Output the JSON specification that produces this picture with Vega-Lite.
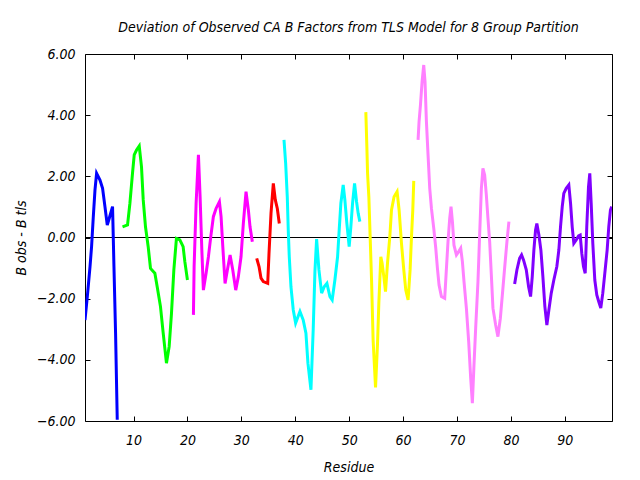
{
  "$schema": "https://vega.github.io/schema/vega-lite/v6.json",
  "width": 527,
  "height": 367,
  "autosize": {"type": "none"},
  "padding": {"left": 85, "top": 54, "right": 28, "bottom": 59},
  "background": "white",
  "config": {
    "view": {"stroke": "black", "strokeWidth": 1},
    "font": "DejaVu Sans Condensed, DejaVu Sans",
    "axis": {"labelFontStyle": "italic", "titleFontStyle": "italic", "labelFontSize": 14, "titleFontSize": 14, "titleFontWeight": "normal", "labelColor": "black", "titleColor": "black", "tickColor": "black", "grid": false, "domain": false}
  },
  "title": {"text": "Deviation of Observed CA B Factors from TLS Model for 8 Group Partition", "fontSize": 14, "fontStyle": "italic", "fontWeight": "normal", "offset": 12, "anchor": "middle", "color": "black"},
  "data": {"values": [
    {"g": "1", "r": 1.00, "v": -2.70}, {"g": "1", "r": 1.43, "v": -1.93}, {"g": "1", "r": 1.93, "v": -0.95}, {"g": "1", "r": 2.22, "v": -0.30}, {"g": "1", "r": 2.54, "v": 0.68}, {"g": "1", "r": 2.85, "v": 1.55}, {"g": "1", "r": 3.15, "v": 2.10}, {"g": "1", "r": 3.78, "v": 1.88}, {"g": "1", "r": 4.26, "v": 1.61}, {"g": "1", "r": 4.70, "v": 1.01}, {"g": "1", "r": 5.13, "v": 0.41}, {"g": "1", "r": 5.50, "v": 0.63}, {"g": "1", "r": 6.11, "v": 1.01}, {"g": "1", "r": 6.37, "v": -0.95}, {"g": "1", "r": 6.67, "v": -3.12}, {"g": "1", "r": 6.98, "v": -5.96},
    {"g": "2", "r": 7.96, "v": 0.35}, {"g": "2", "r": 8.89, "v": 0.41}, {"g": "2", "r": 9.33, "v": 1.12}, {"g": "2", "r": 9.81, "v": 2.10}, {"g": "2", "r": 10.13, "v": 2.70}, {"g": "2", "r": 10.56, "v": 2.86}, {"g": "2", "r": 11.06, "v": 2.99}, {"g": "2", "r": 11.48, "v": 2.31}, {"g": "2", "r": 11.80, "v": 1.23}, {"g": "2", "r": 12.22, "v": 0.35}, {"g": "2", "r": 12.72, "v": -0.30}, {"g": "2", "r": 13.15, "v": -1.01}, {"g": "2", "r": 13.96, "v": -1.17}, {"g": "2", "r": 14.39, "v": -1.61}, {"g": "2", "r": 15.00, "v": -2.26}, {"g": "2", "r": 15.50, "v": -3.12}, {"g": "2", "r": 16.11, "v": -4.11}, {"g": "2", "r": 16.61, "v": -3.57}, {"g": "2", "r": 17.04, "v": -2.48}, {"g": "2", "r": 17.48, "v": -1.06}, {"g": "2", "r": 17.96, "v": -0.03}, {"g": "2", "r": 18.59, "v": -0.08}, {"g": "2", "r": 19.20, "v": -0.30}, {"g": "2", "r": 19.52, "v": -0.79}, {"g": "2", "r": 20.00, "v": -1.39},
    {"g": "3", "r": 21.11, "v": -2.53}, {"g": "3", "r": 21.24, "v": -0.95}, {"g": "3", "r": 21.61, "v": 1.12}, {"g": "3", "r": 22.04, "v": 2.70}, {"g": "3", "r": 22.35, "v": 1.33}, {"g": "3", "r": 22.67, "v": -0.41}, {"g": "3", "r": 22.96, "v": -1.72}, {"g": "3", "r": 23.46, "v": -1.17}, {"g": "3", "r": 23.89, "v": -0.63}, {"g": "3", "r": 24.33, "v": 0.03}, {"g": "3", "r": 24.81, "v": 0.68}, {"g": "3", "r": 25.31, "v": 0.95}, {"g": "3", "r": 25.93, "v": 1.17}, {"g": "3", "r": 26.24, "v": 0.68}, {"g": "3", "r": 26.56, "v": -0.30}, {"g": "3", "r": 26.98, "v": -1.50}, {"g": "3", "r": 27.41, "v": -1.06}, {"g": "3", "r": 27.91, "v": -0.57}, {"g": "3", "r": 28.41, "v": -1.06}, {"g": "3", "r": 28.96, "v": -1.72}, {"g": "3", "r": 29.44, "v": -1.28}, {"g": "3", "r": 29.94, "v": -0.63}, {"g": "3", "r": 30.37, "v": 0.46}, {"g": "3", "r": 30.87, "v": 1.50}, {"g": "3", "r": 31.30, "v": 0.90}, {"g": "3", "r": 31.61, "v": 0.35}, {"g": "3", "r": 32.04, "v": -0.14},
    {"g": "4", "r": 32.85, "v": -0.68}, {"g": "4", "r": 33.28, "v": -0.95}, {"g": "4", "r": 33.65, "v": -1.33}, {"g": "4", "r": 34.07, "v": -1.44}, {"g": "4", "r": 34.89, "v": -1.50}, {"g": "4", "r": 35.13, "v": -0.52}, {"g": "4", "r": 35.50, "v": 0.79}, {"g": "4", "r": 35.93, "v": 1.77}, {"g": "4", "r": 36.30, "v": 1.23}, {"g": "4", "r": 36.67, "v": 0.95}, {"g": "4", "r": 37.04, "v": 0.46},
    {"g": "5", "r": 37.91, "v": 3.19}, {"g": "5", "r": 38.22, "v": 2.42}, {"g": "5", "r": 38.52, "v": 1.33}, {"g": "5", "r": 38.70, "v": 0.25}, {"g": "5", "r": 38.89, "v": -0.63}, {"g": "5", "r": 39.20, "v": -1.61}, {"g": "5", "r": 39.63, "v": -2.37}, {"g": "5", "r": 40.07, "v": -2.80}, {"g": "5", "r": 40.87, "v": -2.42}, {"g": "5", "r": 41.48, "v": -2.70}, {"g": "5", "r": 41.98, "v": -3.13}, {"g": "5", "r": 42.35, "v": -4.11}, {"g": "5", "r": 42.91, "v": -4.98}, {"g": "5", "r": 43.33, "v": -3.00}, {"g": "5", "r": 43.65, "v": -1.10}, {"g": "5", "r": 43.96, "v": -0.05}, {"g": "5", "r": 44.39, "v": -1.06}, {"g": "5", "r": 44.89, "v": -1.82}, {"g": "5", "r": 45.37, "v": -1.61}, {"g": "5", "r": 45.87, "v": -1.50}, {"g": "5", "r": 46.43, "v": -1.93}, {"g": "5", "r": 46.85, "v": -2.04}, {"g": "5", "r": 47.35, "v": -1.39}, {"g": "5", "r": 47.85, "v": -0.63}, {"g": "5", "r": 48.15, "v": 0.25}, {"g": "5", "r": 48.46, "v": 1.12}, {"g": "5", "r": 48.89, "v": 1.72}, {"g": "5", "r": 49.20, "v": 1.23}, {"g": "5", "r": 49.57, "v": 0.46}, {"g": "5", "r": 50.00, "v": -0.30}, {"g": "5", "r": 50.31, "v": 0.35}, {"g": "5", "r": 50.63, "v": 1.12}, {"g": "5", "r": 51.00, "v": 1.77}, {"g": "5", "r": 51.37, "v": 1.17}, {"g": "5", "r": 51.67, "v": 0.79}, {"g": "5", "r": 51.98, "v": 0.52},
    {"g": "6", "r": 53.09, "v": 4.10}, {"g": "6", "r": 53.28, "v": 2.97}, {"g": "6", "r": 53.41, "v": 2.10}, {"g": "6", "r": 53.65, "v": 1.33}, {"g": "6", "r": 53.89, "v": 0.03}, {"g": "6", "r": 54.15, "v": -1.39}, {"g": "6", "r": 54.44, "v": -3.35}, {"g": "6", "r": 54.89, "v": -4.90}, {"g": "6", "r": 55.26, "v": -3.46}, {"g": "6", "r": 55.50, "v": -2.15}, {"g": "6", "r": 55.87, "v": -0.63}, {"g": "6", "r": 56.11, "v": -0.84}, {"g": "6", "r": 56.43, "v": -1.28}, {"g": "6", "r": 56.74, "v": -1.77}, {"g": "6", "r": 57.11, "v": -0.84}, {"g": "6", "r": 57.54, "v": 0.03}, {"g": "6", "r": 57.85, "v": 0.90}, {"g": "6", "r": 58.33, "v": 1.33}, {"g": "6", "r": 58.89, "v": 1.50}, {"g": "6", "r": 59.26, "v": 0.90}, {"g": "6", "r": 59.70, "v": -0.19}, {"g": "6", "r": 60.13, "v": -1.06}, {"g": "6", "r": 60.50, "v": -1.72}, {"g": "6", "r": 60.93, "v": -2.04}, {"g": "6", "r": 61.30, "v": -1.06}, {"g": "6", "r": 61.56, "v": 0.03}, {"g": "6", "r": 61.80, "v": 0.90}, {"g": "6", "r": 61.98, "v": 1.85},
    {"g": "7", "r": 62.78, "v": 3.19}, {"g": "7", "r": 62.96, "v": 3.78}, {"g": "7", "r": 63.22, "v": 4.33}, {"g": "7", "r": 63.52, "v": 5.09}, {"g": "7", "r": 63.83, "v": 5.64}, {"g": "7", "r": 64.07, "v": 5.09}, {"g": "7", "r": 64.33, "v": 3.78}, {"g": "7", "r": 64.63, "v": 2.70}, {"g": "7", "r": 64.94, "v": 1.61}, {"g": "7", "r": 65.26, "v": 0.95}, {"g": "7", "r": 65.69, "v": 0.30}, {"g": "7", "r": 66.06, "v": -0.35}, {"g": "7", "r": 66.37, "v": -1.01}, {"g": "7", "r": 66.67, "v": -1.55}, {"g": "7", "r": 67.11, "v": -1.93}, {"g": "7", "r": 67.72, "v": -1.99}, {"g": "7", "r": 68.04, "v": -1.01}, {"g": "7", "r": 68.33, "v": -0.14}, {"g": "7", "r": 68.65, "v": 0.63}, {"g": "7", "r": 68.89, "v": 1.01}, {"g": "7", "r": 69.15, "v": 0.52}, {"g": "7", "r": 69.44, "v": -0.25}, {"g": "7", "r": 69.89, "v": -0.57}, {"g": "7", "r": 70.31, "v": -0.46}, {"g": "7", "r": 70.69, "v": -0.35}, {"g": "7", "r": 71.00, "v": -0.79}, {"g": "7", "r": 71.30, "v": -1.44}, {"g": "7", "r": 71.74, "v": -2.31}, {"g": "7", "r": 72.17, "v": -3.41}, {"g": "7", "r": 72.54, "v": -4.60}, {"g": "7", "r": 72.85, "v": -5.42}, {"g": "7", "r": 73.15, "v": -4.17}, {"g": "7", "r": 73.46, "v": -2.97}, {"g": "7", "r": 73.89, "v": -1.44}, {"g": "7", "r": 74.20, "v": 0.08}, {"g": "7", "r": 74.52, "v": 1.61}, {"g": "7", "r": 74.81, "v": 2.26}, {"g": "7", "r": 75.13, "v": 2.04}, {"g": "7", "r": 75.44, "v": 1.39}, {"g": "7", "r": 75.74, "v": 0.63}, {"g": "7", "r": 76.06, "v": -0.14}, {"g": "7", "r": 76.37, "v": -1.23}, {"g": "7", "r": 76.67, "v": -2.31}, {"g": "7", "r": 77.17, "v": -2.86}, {"g": "7", "r": 77.59, "v": -3.24}, {"g": "7", "r": 78.04, "v": -2.64}, {"g": "7", "r": 78.41, "v": -1.88}, {"g": "7", "r": 78.83, "v": -1.01}, {"g": "7", "r": 79.26, "v": -0.14}, {"g": "7", "r": 79.63, "v": 0.52},
    {"g": "8", "r": 80.69, "v": -1.52}, {"g": "8", "r": 81.11, "v": -1.06}, {"g": "8", "r": 81.61, "v": -0.68}, {"g": "8", "r": 81.98, "v": -0.57}, {"g": "8", "r": 82.35, "v": -0.74}, {"g": "8", "r": 82.85, "v": -1.06}, {"g": "8", "r": 83.28, "v": -1.61}, {"g": "8", "r": 83.65, "v": -1.93}, {"g": "8", "r": 83.96, "v": -1.28}, {"g": "8", "r": 84.26, "v": -0.41}, {"g": "8", "r": 84.57, "v": 0.25}, {"g": "8", "r": 84.81, "v": 0.46}, {"g": "8", "r": 85.19, "v": 0.08}, {"g": "8", "r": 85.56, "v": -0.41}, {"g": "8", "r": 85.93, "v": -1.28}, {"g": "8", "r": 86.30, "v": -2.26}, {"g": "8", "r": 86.67, "v": -2.86}, {"g": "8", "r": 87.04, "v": -2.37}, {"g": "8", "r": 87.48, "v": -1.82}, {"g": "8", "r": 87.96, "v": -1.39}, {"g": "8", "r": 88.52, "v": -0.95}, {"g": "8", "r": 88.89, "v": -0.41}, {"g": "8", "r": 89.20, "v": 0.35}, {"g": "8", "r": 89.52, "v": 1.01}, {"g": "8", "r": 89.81, "v": 1.44}, {"g": "8", "r": 90.26, "v": 1.61}, {"g": "8", "r": 90.74, "v": 1.72}, {"g": "8", "r": 91.06, "v": 1.12}, {"g": "8", "r": 91.37, "v": 0.35}, {"g": "8", "r": 91.67, "v": -0.19}, {"g": "8", "r": 92.11, "v": -0.08}, {"g": "8", "r": 92.54, "v": 0.05}, {"g": "8", "r": 92.85, "v": 0.08}, {"g": "8", "r": 93.15, "v": -0.52}, {"g": "8", "r": 93.46, "v": -0.95}, {"g": "8", "r": 93.78, "v": -1.17}, {"g": "8", "r": 94.07, "v": 0.35}, {"g": "8", "r": 94.39, "v": 1.66}, {"g": "8", "r": 94.63, "v": 2.10}, {"g": "8", "r": 94.89, "v": 1.12}, {"g": "8", "r": 95.19, "v": -0.19}, {"g": "8", "r": 95.56, "v": -1.39}, {"g": "8", "r": 95.93, "v": -1.88}, {"g": "8", "r": 96.30, "v": -2.10}, {"g": "8", "r": 96.67, "v": -2.31}, {"g": "8", "r": 97.04, "v": -1.82}, {"g": "8", "r": 97.48, "v": -1.06}, {"g": "8", "r": 97.85, "v": -0.41}, {"g": "8", "r": 98.15, "v": 0.35}, {"g": "8", "r": 98.46, "v": 0.90}, {"g": "8", "r": 98.70, "v": 1.01}
  ]},
  "layer": [
    {
      "mark": {"type": "rule", "color": "black", "strokeWidth": 1},
      "encoding": {
        "y": {"datum": 0, "type": "quantitative", "scale": {"domain": [-6, 6]}, "axis": {"orient": "left", "values": [-6, -4, -2, 0, 2, 4, 6], "format": ".2f", "tickSize": -5, "labelPadding": 15, "title": "B obs  -  B tls", "titlePadding": 8}}
      }
    },
    {
      "mark": {"type": "line", "strokeWidth": 3, "clip": true},
      "encoding": {
        "x": {"field": "r", "type": "quantitative", "scale": {"domain": [1, 98.75], "nice": false, "zero": false}, "axis": {"orient": "bottom", "values": [10, 20, 30, 40, 50, 60, 70, 80, 90], "tickSize": -5, "labelPadding": 17, "title": "Residue", "titlePadding": 13}},
        "y": {"field": "v", "type": "quantitative", "scale": {"domain": [-6, 6], "nice": false}, "axis": null},
        "color": {"field": "g", "type": "nominal", "legend": null, "scale": {"domain": ["1", "2", "3", "4", "5", "6", "7", "8"], "range": ["#0000ff", "#00ff00", "#ff00ff", "#ff0000", "#00ffff", "#ffff00", "#ff80ff", "#8000ff"]}}
      }
    },
    {
      "mark": {"type": "line", "opacity": 0},
      "encoding": {
        "x": {"field": "r", "type": "quantitative", "axis": {"orient": "top", "values": [10, 20, 30, 40, 50, 60, 70, 80, 90], "tickSize": -5, "labels": false, "title": null}},
        "y": {"field": "v", "type": "quantitative", "axis": {"orient": "right", "values": [-6, -4, -2, 0, 2, 4, 6], "tickSize": -5, "labels": false, "title": null}},
        "detail": {"field": "g"}
      }
    }
  ],
  "resolve": {"axis": {"x": "independent", "y": "independent"}}
}
